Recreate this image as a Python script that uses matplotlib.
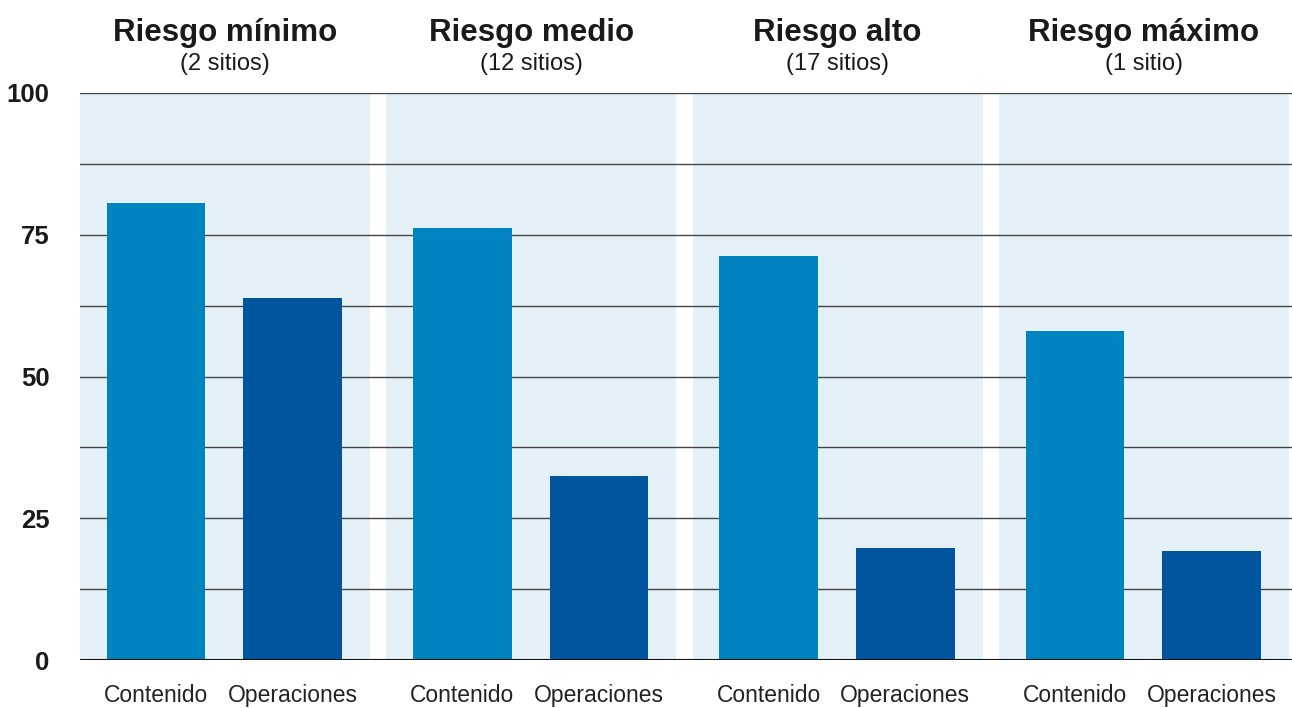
import matplotlib.pyplot as plt

# Data
groups = ['Riesgo mínimo', 'Riesgo medio', 'Riesgo alto', 'Riesgo máximo']
group_notes = ['(2 sitios)', '(12 sitios)', '(17 sitios)', '(1 sitio)']
bar_labels = ['Contenido', 'Operaciones']
contenido = [80.6, 76.2, 71.3, 58.0]
operaciones = [63.8, 32.5, 19.8, 19.2]
yticks = [0, 25, 50, 75, 100]

plt.rcParams['font.family'] = ['Liberation Sans', 'DejaVu Sans']

fig = plt.figure(figsize=(12.92, 7.08), dpi=100)
ax = fig.add_axes([80 / 1292, 48 / 708, 1212 / 1292, 567 / 708])

gap = 16.33 / 290
panel_w = 1.0
colors = ['#0083c1', '#00559e']
bar_w = 0.34
offsets = [0.262, 0.733]

tick_pos, tick_lab = [], []
for i, g in enumerate(groups):
    start = i * (panel_w + gap)
    ax.axvspan(start, start + panel_w, color='#e5f1f8', zorder=0, lw=0)
    for j, vals in enumerate([contenido, operaciones]):
        x = start + offsets[j]
        ax.bar(x, vals[i], width=bar_w, color=colors[j], zorder=3, lw=0)
        tick_pos.append(x)
        tick_lab.append(bar_labels[j])
    cx = start + panel_w / 2
    ax.text(cx, 1.106, g, transform=ax.get_xaxis_transform(), ha='center',
            va='center', fontsize=22.5, fontweight='bold', color='#1a1a1a')
    ax.text(cx, 1.051, group_notes[i], transform=ax.get_xaxis_transform(),
            ha='center', va='center', fontsize=17, color='#1a1a1a')

# horizontal grid lines
for v in [12.5 * k for k in range(1, 9)]:
    ax.axhline(v, color='#444444', lw=1.0, zorder=1)
ax.axhline(0, color='#111111', lw=1.5, zorder=4)

ax.set_xlim(0, 1212 / 290)
ax.set_ylim(0, 100)
ax.set_yticks(yticks)
ax.set_yticklabels([str(t) for t in yticks], fontsize=18.5, fontweight='bold',
                   color='#1a1a1a')
ax.set_xticks(tick_pos)
ax.set_xticklabels(tick_lab, fontsize=16.5, color='#222222')
ax.tick_params(axis='y', length=0, pad=22)
ax.tick_params(axis='x', length=0, pad=17)
for s in ax.spines.values():
    s.set_visible(False)

fig.savefig('out.png', dpi=100)
